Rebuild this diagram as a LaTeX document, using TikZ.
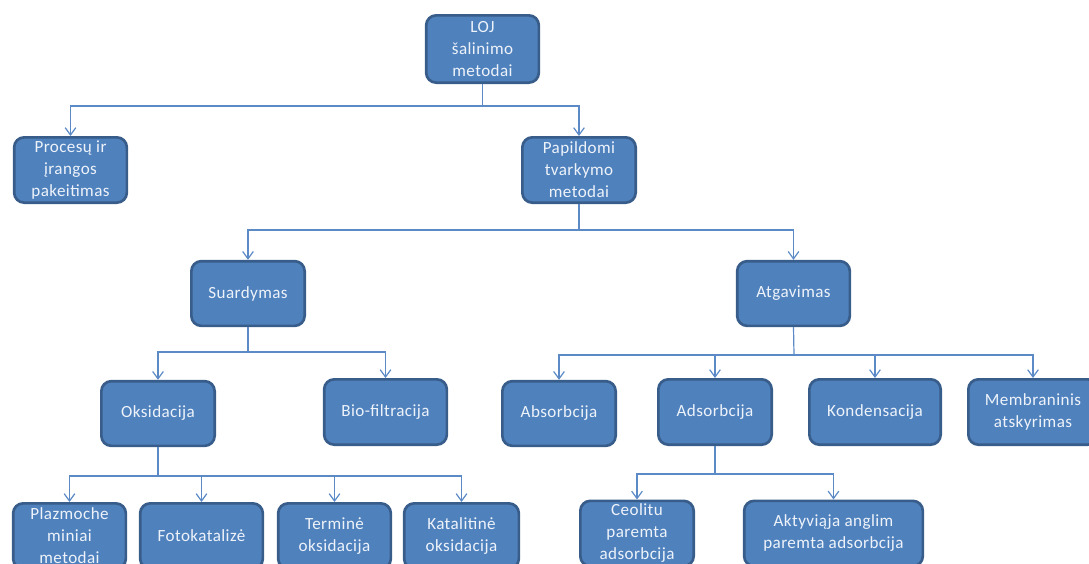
\documentclass[tikz,border=0pt]{standalone}
\usepackage{fontspec}
\setmainfont[LetterSpace=2.5]{Carlito}
\usetikzlibrary{arrows.meta}
\definecolor{boxblue}{HTML}{4F81BD}
\definecolor{boxborder}{HTML}{385D8A}
\definecolor{linkblue}{HTML}{5B8AC6}
\definecolor{txt}{HTML}{EEF3FA}
\tikzset{
  box/.style={rectangle, rounded corners=7.5pt, fill=boxblue, draw=boxborder,
    line width=2pt, text=txt, align=center, inner sep=1pt,
    font=\fontsize{12.8}{16.5}\selectfont},
  conn/.style={draw=linkblue, line width=0.9pt},
  arr/.style={conn, -{Straight Barb[length=5.5pt,width=8pt,line width=0.9pt]}}
}
\begin{document}
\begin{tikzpicture}[x=0.75pt,y=-0.75pt]
\useasboundingbox (0,0) rectangle (1089,564);
\clip (0,0) rectangle (1089,564);
% level 0
\node[box, minimum width=84.5pt, minimum height=50.5pt] (loj) at (482.5,49) {LOJ\\šalinimo\\metodai};
% level 1
\node[box, minimum width=84.5pt, minimum height=49pt] (proc) at (70.5,170) {Procesų ir\\įrangos\\pakeitimas};
\node[box, minimum width=85pt, minimum height=49pt] (pap) at (579,170) {Papildomi\\tvarkymo\\metodai};
% level 2
\node[box, minimum width=85pt, minimum height=48.5pt] (suard) at (248,293.5) {Suardymas};
\node[box, minimum width=84.5pt, minimum height=48.5pt] (atg) at (793.5,293.5) {Atgavimas};
% level 3
\node[box, minimum width=85pt, minimum height=48.5pt] (oks) at (158,413.5) {Oksidacija};
\node[box, minimum width=92pt, minimum height=49pt] (bio) at (385.5,412) {Bio-filtracija};
\node[box, minimum width=85pt, minimum height=48.5pt] (abs) at (559,413.5) {Absorbcija};
\node[box, minimum width=85pt, minimum height=49pt] (ads) at (715,412) {Adsorbcija};
\node[box, minimum width=98.5pt, minimum height=49pt] (kond) at (875,412) {Kondensacija};
\node[box, minimum width=97pt, minimum height=49pt] (memb) at (1033,412) {Membraninis\\atskyrimas};
% level 4
\node[box, minimum width=84.5pt, minimum height=49pt] (plaz) at (69.5,536) {Plazmoche\\miniai\\metodai};
\node[box, minimum width=92pt, minimum height=49pt] (foto) at (201.5,536) {Fotokatalizė};
\node[box, minimum width=84.5pt, minimum height=49pt] (term) at (334.5,536) {Terminė\\oksidacija};
\node[box, minimum width=86pt, minimum height=49pt] (kat) at (461.5,536) {Katalitinė\\oksidacija};
\node[box, minimum width=85pt, minimum height=49pt] (ceo) at (637,533.5) {Ceolitu\\paremta\\adsorbcija};
\node[box, minimum width=134pt, minimum height=49pt] (akt) at (833.5,533.5) {Aktyviąja anglim\\paremta adsorbcija};
% junctions
\coordinate (jloj) at (482.5,106);
\coordinate (jpap) at (579,230);
\coordinate (jsua) at (248,352);
\coordinate (jatg) at (794,355);
\coordinate (joks) at (158,476);
\coordinate (jads) at (715,474);
% connectors
\draw[conn] (loj.south) -- (jloj);
\draw[arr] (jloj) -| (proc.north);
\draw[arr] (jloj) -| (pap.north);
\draw[conn] (pap.south) -- (jpap);
\draw[arr] (jpap) -| (suard.north);
\draw[arr] (jpap) -| (atg.north);
\draw[conn] (suard.south) -- (jsua);
\draw[arr] (jsua) -| (oks.north);
\draw[arr] (jsua) -| (bio.north);
\draw[conn] (atg.south) -- (jatg);
\draw[arr] (jatg) -| (abs.north);
\draw[arr] (jatg) -| (ads.north);
\draw[arr] (jatg) -| (kond.north);
\draw[arr] (jatg) -| (memb.north);
\draw[conn] (oks.south) -- (joks);
\draw[arr] (joks) -| (plaz.north);
\draw[arr] (joks) -| (foto.north);
\draw[arr] (joks) -| (term.north);
\draw[arr] (joks) -| (kat.north);
\draw[conn] (ads.south) -- (jads);
\draw[arr] (jads) -| (ceo.north);
\draw[arr] (jads) -| (akt.north);
\end{tikzpicture}
\end{document}
